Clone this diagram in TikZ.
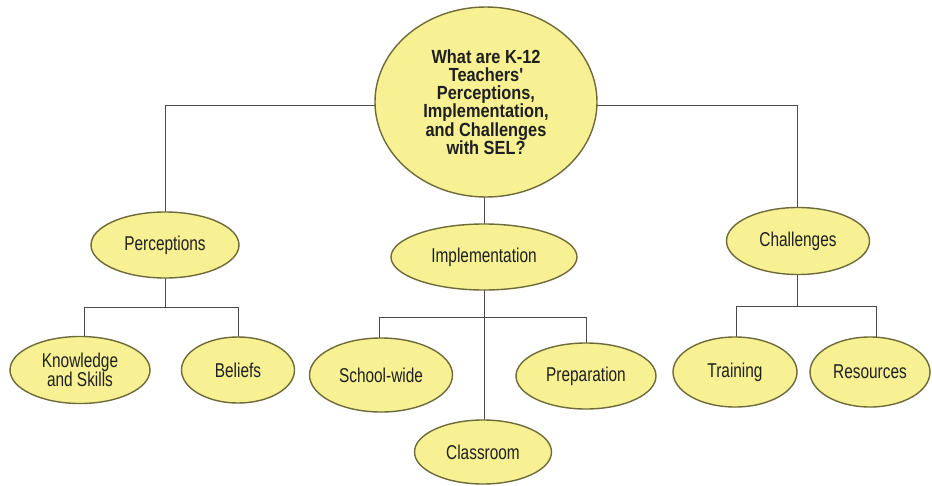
\documentclass[tikz,border=0pt]{standalone}
\usepackage{fontspec}
\setmainfont{Liberation Sans}[FakeStretch=0.77]
\newfontfamily\rootfont{Liberation Sans}[FakeStretch=0.86]
\usetikzlibrary{shapes.geometric}
\definecolor{nodefill}{HTML}{F7F194}
\definecolor{nodeline}{HTML}{6E6A3A}
\definecolor{conn}{HTML}{4A4A4A}
\tikzset{
  bubble/.style={ellipse, draw=nodeline, fill=nodefill, line width=1.4pt, inner sep=0pt, align=center, font=\fontsize{20}{19.5}\selectfont, text=black!88},
  conn/.style={draw=conn, line width=1pt},
}
\begin{document}
\begin{tikzpicture}[x=1pt,y=-1pt]
\useasboundingbox[fill=white] (0,0) rectangle (932,485);
% connector junctions
\coordinate (hl) at (165,105);
\coordinate (hr) at (797,105);
\coordinate (pj) at (165,307);
\coordinate (pjl) at (84,307);
\coordinate (pjr) at (238,307);
\coordinate (ij) at (484,317);
\coordinate (ijl) at (379,317);
\coordinate (ijr) at (586,317);
\coordinate (cj) at (797,306);
\coordinate (cjl) at (736,306);
\coordinate (cjr) at (876,306);
% connectors (drawn first, behind nodes)
\draw[conn] (hl) -- (hr);
\draw[conn] (hl) -- (165,240);
\draw[conn] (hr) -- (797,240);
\draw[conn] (484,150) -- (484,260);
\draw[conn] (165,250) -- (pj);
\draw[conn] (pjl) -- (pjr);
\draw[conn] (pjl) -- (84,370);
\draw[conn] (pjr) -- (238,370);
\draw[conn] (484,260) -- (484,450);
\draw[conn] (ijl) -- (ijr);
\draw[conn] (ijl) -- (379,370);
\draw[conn] (ijr) -- (586,370);
\draw[conn] (797,250) -- (cj);
\draw[conn] (cjl) -- (cjr);
\draw[conn] (cjl) -- (736,370);
\draw[conn] (cjr) -- (876,370);
% nodes
\node[bubble, minimum width=222pt, minimum height=190pt, font=\fontsize{19}{18.2}\selectfont\rootfont\bfseries] (root) at (486,102)
  {What are K-12\\Teachers'\\Perceptions,\\Implementation,\\and Challenges\\with SEL?};
\node[bubble, minimum width=148pt, minimum height=66pt] (perc) at (165,245) {Perceptions};
\node[bubble, minimum width=186pt, minimum height=66pt] (impl) at (484,257) {Implementation};
\node[bubble, minimum width=143pt, minimum height=67pt] (chal) at (798,241) {Challenges};
\node[bubble, minimum width=140pt, minimum height=67pt] (know) at (80,370) {Knowledge\\and Skills};
\node[bubble, minimum width=113pt, minimum height=66pt] (bel) at (238,370) {Beliefs};
\node[bubble, minimum width=143pt, minimum height=74pt] (school) at (381,375) {School-wide};
\node[bubble, minimum width=140pt, minimum height=66pt] (prep) at (586,376) {Preparation};
\node[bubble, minimum width=137pt, minimum height=64pt] (class) at (483,452) {Classroom};
\node[bubble, minimum width=124pt, minimum height=70pt] (train) at (735,372) {Training};
\node[bubble, minimum width=120pt, minimum height=70pt] (res) at (870,372) {Resources};
\end{tikzpicture}
\end{document}
